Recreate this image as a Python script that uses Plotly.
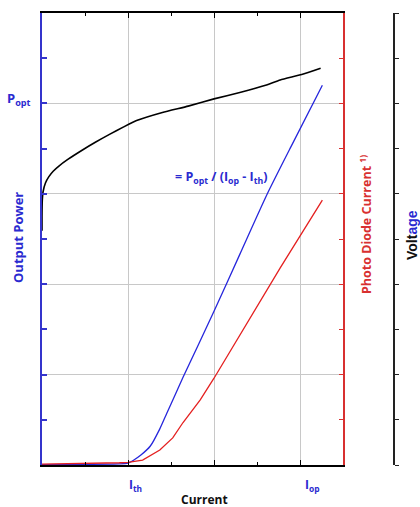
import plotly.graph_objects as go

# ---- data ----
current_v = [0.0, 0.0, 0.003, 0.012, 0.04, 0.08, 0.13, 0.2, 0.3, 0.48, 0.62, 0.79, 0.95, 1.1, 1.4, 1.7, 2.0, 2.3, 2.6, 2.77, 3.02, 3.24]
voltage = [2.59, 2.75, 2.92, 3.02, 3.12, 3.19, 3.25, 3.31, 3.38, 3.49, 3.57, 3.66, 3.74, 3.81, 3.90, 3.97, 4.05, 4.12, 4.20, 4.26, 4.32, 4.39]

current_p = [0.0, 0.5, 0.9, 1.0, 1.06, 1.15, 1.26, 1.37, 1.45, 1.55, 1.64, 2.0, 2.3, 2.62, 2.9, 3.26]
power = [0.005, 0.008, 0.012, 0.02, 0.05, 0.11, 0.21, 0.40, 0.57, 0.78, 0.97, 1.70, 2.33, 3.0, 3.53, 4.20]

current_pd = [0.0, 0.5, 0.9, 1.0, 1.17, 1.37, 1.52, 1.64, 1.84, 2.0, 2.77, 3.26]
pd_current = [0.01, 0.015, 0.025, 0.03, 0.055, 0.165, 0.30, 0.47, 0.72, 0.96, 2.18, 2.93]

x_range = [0, 3.5]
y_range = [0, 5]

BLUE = "#3434cc"
BLUE_TXT = "#2a2ad0"
RED = "#d83030"
GRID = "#c8c8c8"
FONT = "Open Sans"

W, H = 420, 507
ML, MR, MT, MB = 42, 20, 11, 42
PW, PH = W - ML - MR, H - MT - MB
PLOT_RIGHT = 343


def px(xp):
    return (xp - ML) / PW


def py(yp):
    return (H - MB - yp) / PH


fig = go.Figure()
fig.add_trace(go.Scatter(x=current_v, y=voltage, yaxis="y3", mode="lines",
                         line=dict(color="black", width=1.6, shape="spline", smoothing=0.5),
                         showlegend=False))
fig.add_trace(go.Scatter(x=current_p, y=power, yaxis="y", mode="lines",
                         line=dict(color="#2626dc", width=1.3, shape="spline", smoothing=0.6),
                         showlegend=False))
fig.add_trace(go.Scatter(x=current_pd, y=pd_current, yaxis="y2", mode="lines",
                         line=dict(color="#e42020", width=1.3), showlegend=False))

fig.update_layout(
    width=W, height=H,
    margin=dict(l=ML, r=MR, t=MT, b=MB),
    paper_bgcolor="white", plot_bgcolor="white",
    showlegend=False,
    xaxis=dict(domain=[0, px(PLOT_RIGHT)], range=x_range, dtick=1, tick0=0,
               showgrid=True, gridcolor=GRID, gridwidth=1.3,
               ticks="inside", ticklen=5, tickcolor="black", tickwidth=1.2,
               showticklabels=False, showline=True, linecolor="black", linewidth=1.5,
               mirror="ticks", zeroline=False,
               minor=dict(dtick=0.5, ticks="inside", ticklen=3, tickcolor="black", showgrid=False)),
    yaxis=dict(range=y_range, dtick=1, tick0=0, showgrid=True, gridcolor=GRID, gridwidth=1.3,
               ticks="inside", ticklen=5, tickcolor=BLUE, tickwidth=1.5,
               showticklabels=False, showline=True, linecolor=BLUE, linewidth=2,
               zeroline=False,
               minor=dict(dtick=0.5, ticks="inside", ticklen=5, tickcolor=BLUE, showgrid=False)),
    yaxis2=dict(range=y_range, overlaying="y", side="right", anchor="x",
                dtick=0.5, tick0=0, showgrid=False, ticks="inside", ticklen=4,
                tickcolor=RED, tickwidth=1.2, showticklabels=False, showline=True,
                linecolor=RED, linewidth=1.5, zeroline=False),
    yaxis3=dict(range=y_range, overlaying="y", side="right", anchor="free",
                position=px(394), dtick=0.5, tick0=0, showgrid=False,
                ticks="outside", ticklen=4, tickcolor="#222", tickwidth=1.2,
                showticklabels=False, showline=True, linecolor="#222", linewidth=1.5,
                zeroline=False),
)

ann = []


def add_text(text, xp, yp, size, color, angle=0, family=FONT):
    ann.append(dict(text=text, x=px(xp), y=py(yp), xref="paper", yref="paper",
                    showarrow=False, xanchor="center", yanchor="middle",
                    textangle=angle, font=dict(family=family, size=size, color=color)))


add_text("<b>P<sub>opt</sub></b>", 19, 97, 13, BLUE_TXT)
add_text("<b>Output Power</b>", 18, 237, 13, BLUE_TXT, angle=-90)
add_text("<b>= P<sub>opt</sub> / (I<sub>op</sub> - I<sub>th</sub>)</b>", 221, 176, 12.5, BLUE_TXT)
add_text("<b>Photo Diode Current <sup>1)</sup></b>", 366, 224, 12.5, RED, angle=-90)
add_text("<b>Volt<span style='color:#2a2ad0'>age</span></b>", 412, 234, 14, "#111",
         angle=-90, family="Liberation Sans")
add_text("<b>I<sub>th</sub></b>", 135, 485, 12, BLUE_TXT)
add_text("<b>I<sub>op</sub></b>", 312, 485, 12, BLUE_TXT)
add_text("<b>Current</b>", 204, 500, 12, "#111")

fig.update_layout(annotations=ann)
fig.write_html(
    "out.html",
    config={"displayModeBar": False},
    post_script="document.body.style.margin='0';document.body.style.overflow='hidden';",
)
